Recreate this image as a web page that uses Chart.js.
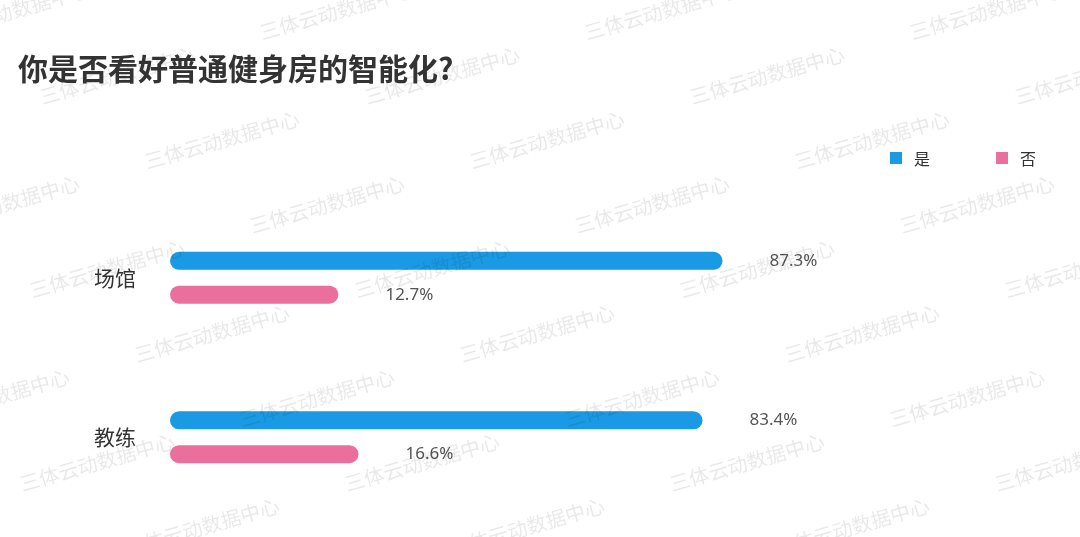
<!DOCTYPE html>
<html lang="zh-CN">
  <head>
    <meta charset="UTF-8" />
    <title>你是否看好普通健身房的智能化?</title>
    <script src="https://cdn.jsdelivr.net/npm/chart.js"></script>
    <style>
      html, body { margin: 0; padding: 0; background: #fff; }
      .wrap { position: relative; width: 1080px; height: 537px; overflow: hidden; }
      #chart { position: absolute; left: 0; top: 0; }
      .title {
        position: absolute; left: 18px; top: 51px;
        font: 700 30px "Noto Sans CJK SC", sans-serif; line-height: 32px;
        color: #333; white-space: nowrap;
      }
      .legend { position: absolute; left: 890px; top: 148px; display: flex; }
      .legend .item { display: flex; align-items: center; margin-right: 66px;
        font: 16px "Noto Sans CJK SC", sans-serif; color: #333; line-height: 20px; }
      .legend .box { width: 12px; height: 12px; margin-right: 12px; }
    </style>
  </head>
  <body>
    <div class="wrap">
      <canvas id="chart" width="1080" height="537"></canvas>
      <div class="title">你是否看好普通健身房的智能化?</div>
      <div class="legend" id="legend"></div>
    </div>

    <script>
      const categories = ["场馆", "教练"];
      const seriesNames = ["是", "否"];
      const yesValues = [87.3, 83.4];
      const noValues = [12.7, 16.6];
      const colors = ["#1a9ae4", "#eb6f9c"];
      const watermarkText = "三体云动数据中心";

      // legend (html)
      const legend = document.getElementById("legend");
      seriesNames.forEach((name, i) => {
        const item = document.createElement("div");
        item.className = "item";
        item.innerHTML = '<span class="box" style="background:' + colors[i] + '"></span><span>' + name + "</span>";
        legend.appendChild(item);
      });

      // value labels after bar ends
      const valueLabels = {
        id: "valueLabels",
        afterDatasetsDraw(chart) {
          const ctx = chart.ctx;
          ctx.save();
          ctx.font = '17px "Noto Sans", sans-serif';
          ctx.fillStyle = "#555";
          ctx.textBaseline = "middle";
          chart.data.datasets.forEach((ds, di) => {
            chart.getDatasetMeta(di).data.forEach((bar, i) => {
              ctx.fillText(ds.data[i].toFixed(1) + "%", bar.x + 47, bar.y);
            });
          });
          ctx.restore();
        },
      };

      // repeated watermark
      const watermark = {
        id: "watermark",
        afterDraw(chart) {
          const ctx = chart.ctx;
          ctx.save();
          ctx.font = '20px "Noto Sans CJK SC", sans-serif';
          ctx.fillStyle = "rgba(0,0,0,0.09)";
          ctx.textAlign = "center";
          ctx.textBaseline = "middle";
          for (let j = -3; j <= 7; j++) {
            for (let i = -3; i <= 4; i++) {
              const x = 222 + 105 * j + 325 * i;
              const y = 140 + 64.5 * j;
              if (x < -120 || x > 1200) continue;
              ctx.save();
              ctx.translate(x, y);
              ctx.rotate(-16 * Math.PI / 180);
              ctx.fillText(watermarkText, 0, 0);
              ctx.restore();
            }
          }
          ctx.restore();
        },
      };

      new Chart(document.getElementById("chart"), {
        type: "bar",
        data: {
          labels: categories,
          datasets: [
            { label: seriesNames[0], data: yesValues, backgroundColor: colors[0] },
            { label: seriesNames[1], data: noValues, backgroundColor: colors[1] },
          ],
        },
        options: {
          indexAxis: "y",
          responsive: false,
          animation: false,
          events: [],
          layout: { autoPadding: false, padding: { left: 92, right: 292, top: 198, bottom: 20 } },
          datasets: {
            bar: {
              base: -20,
              categoryPercentage: 0.426,
              barPercentage: 0.53,
              borderRadius: 9,
              borderSkipped: false,
            },
          },
          scales: {
            x: { display: false, min: -20, max: 100 },
            y: {
              grid: { display: false, drawTicks: false },
              border: { display: false },
              afterFit(scale) {
                scale.width = 78;
                scale.paddingTop = 0;
                scale.paddingBottom = 0;
              },
              ticks: {
                padding: 34,
                color: "#333",
                font: { family: '"Noto Sans CJK SC", sans-serif', size: 21 },
              },
            },
          },
          plugins: {
            legend: { display: false },
            tooltip: { enabled: false },
          },
        },
        plugins: [valueLabels, watermark],
      });
    </script>
  </body>
</html>
